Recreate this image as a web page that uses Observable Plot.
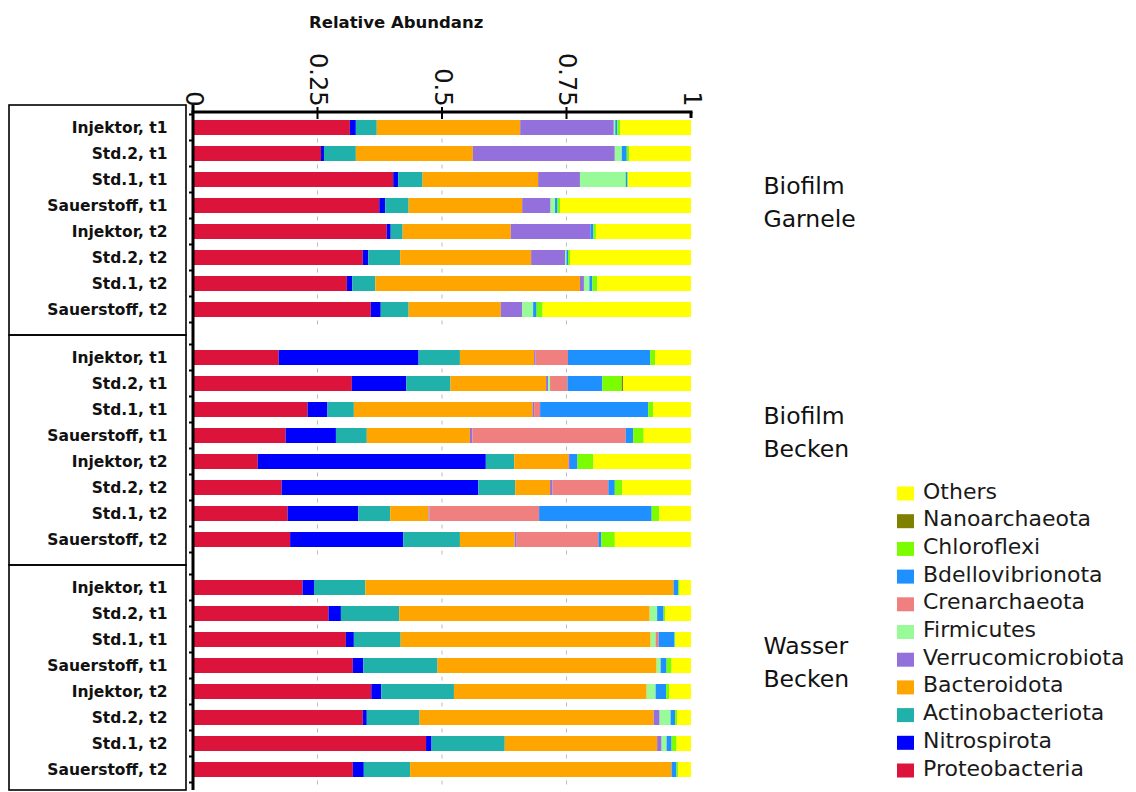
<!DOCTYPE html>
<html><head><meta charset="utf-8">
<script src="https://cdn.jsdelivr.net/npm/d3@7"></script>
<script src="https://cdn.jsdelivr.net/npm/@observablehq/plot@0.6"></script>
<style>body{margin:0;background:#fff} #chart{width:1136px;height:792px;position:relative}</style>
</head><body><div id="chart"></div>
<script>
const groups = ["Biofilm Garnele", "Biofilm Becken", "Wasser Becken"];
const groupLabels = ["Biofilm\nGarnele", "Biofilm\nBecken", "Wasser\nBecken"];
const samples = ["Injektor, t1", "Std.2, t1", "Std.1, t1", "Sauerstoff, t1", "Injektor, t2", "Std.2, t2", "Std.1, t2", "Sauerstoff, t2"];
const phyla = ["Proteobacteria", "Nitrospirota", "Actinobacteriota", "Bacteroidota", "Verrucomicrobiota", "Firmicutes", "Crenarchaeota", "Bdellovibrionota", "Chloroflexi", "Nanoarchaeota", "Others"];
const phylumColors = ["#dc143c", "#0000ff", "#20b2aa", "#ffa500", "#9370db", "#98fb98", "#f08080", "#1e90ff", "#7cfc00", "#808000", "#ffff00"];
const xTicks = [0, 0.25, 0.5, 0.75, 1];
const titleText = "Relative Abundanz";

// 24 values per phylum: Biofilm Garnele (8 samples), Biofilm Becken (8), Wasser Becken (8)
const proteobacteria   = [0.315,0.257,0.402,0.374,0.389,0.341,0.309,0.357, 0.172,0.319,0.230,0.186,0.130,0.178,0.190,0.195, 0.220,0.272,0.307,0.321,0.358,0.341,0.468,0.321];
const nitrospirota     = [0.012,0.006,0.010,0.012,0.008,0.011,0.011,0.020, 0.281,0.109,0.040,0.101,0.458,0.395,0.142,0.227, 0.023,0.025,0.016,0.021,0.020,0.008,0.011,0.022];
const actinobacteriota = [0.042,0.064,0.049,0.047,0.024,0.064,0.046,0.056, 0.083,0.089,0.053,0.062,0.057,0.074,0.064,0.114, 0.103,0.117,0.094,0.149,0.146,0.106,0.147,0.093];
const bacteroidota     = [0.288,0.235,0.232,0.228,0.217,0.263,0.411,0.185, 0.149,0.192,0.359,0.207,0.109,0.070,0.077,0.110, 0.619,0.503,0.502,0.440,0.387,0.470,0.306,0.525];
const verrucomicrobiota= [0.188,0.285,0.084,0.057,0.160,0.068,0.008,0.043, 0.003,0.004,0.003,0.005,0.003,0.005,0.002,0.004, 0,0,0,0,0,0.012,0.009,0];
const firmicutes       = [0.003,0.014,0.092,0.009,0,0.003,0.011,0.022, 0,0.004,0,0,0,0,0,0, 0,0.015,0.010,0.008,0.018,0.022,0.010,0];
const crenarchaeota    = [0,0,0,0,0,0,0,0, 0.065,0.035,0.012,0.308,0,0.112,0.220,0.164, 0,0,0.006,0,0,0,0,0];
const bdellovibrionota = [0.004,0.010,0.003,0.005,0.006,0.003,0.006,0.007, 0.165,0.070,0.217,0.015,0.015,0.013,0.226,0.006, 0.009,0.013,0.032,0.012,0.021,0.009,0.010,0.010];
const chloroflexi      = [0.006,0.005,0.002,0.005,0.005,0.004,0.010,0.012, 0.010,0.039,0.010,0.021,0.032,0.015,0.015,0.027, 0.003,0.003,0.002,0.010,0.006,0.004,0.010,0.003];
const nanoarchaeota    = [0,0,0,0,0,0,0,0, 0,0.003,0,0,0,0,0,0, 0,0,0,0,0,0,0,0];
const others           = [0.142,0.124,0.126,0.263,0.191,0.243,0.188,0.298, 0.072,0.136,0.076,0.095,0.196,0.138,0.064,0.153, 0.023,0.052,0.031,0.039,0.044,0.028,0.029,0.026];

const series = {
  Proteobacteria: proteobacteria, Nitrospirota: nitrospirota, Actinobacteriota: actinobacteriota,
  Bacteroidota: bacteroidota, Verrucomicrobiota: verrucomicrobiota, Firmicutes: firmicutes,
  Crenarchaeota: crenarchaeota, Bdellovibrionota: bdellovibrionota, Chloroflexi: chloroflexi,
  Nanoarchaeota: nanoarchaeota, Others: others
};
const rows = [];
phyla.forEach(p => groups.forEach((g, gi) => samples.forEach((s, si) =>
  rows.push({phylum: p, group: g, sample: s, value: series[p][gi * samples.length + si]}))));

const plot = Plot.plot({
  width: 1136, height: 792,
  marginLeft: 193, marginRight: 445, marginTop: 110, marginBottom: 4.4,
  style: {fontFamily: "DejaVu Sans", background: "transparent", color: "#111"},
  x: {domain: [0, 1], axis: null},
  y: {domain: samples, paddingInner: 0.436, paddingOuter: 0.3},
  fy: {domain: groups, paddingInner: 0.0565, paddingOuter: 0, axis: null},
  color: {domain: phyla, range: phylumColors},
  marks: [
    Plot.barX(rows, Plot.stackX({x: "value", y: "sample", fy: "group", fill: "phylum"})),
    Plot.axisY({tickSize: 0, tickPadding: 26, fontSize: 15.5, fontWeight: "bold", fill: "#111", label: null}),
    Plot.text(xTicks, {x: d => d, fy: () => groups[0], frameAnchor: "top", text: d => String(d),
      rotate: 90, textAnchor: "end", lineAnchor: "middle", dy: -4, fontSize: 24, fill: "#111"}),
    Plot.text(groups, {fy: d => d, text: (d, i) => groupLabels[i], frameAnchor: "right", textAnchor: "start",
      dx: 72, dy: -19, fontSize: 23.5, lineHeight: 1.42, fill: "#111"})
  ]
});
document.getElementById("chart").appendChild(plot);

// decorations drawn from the library's scales
const svg = d3.select(plot);
const X = plot.scale("x"), FY = plot.scale("fy"), Y = plot.scale("y");
const fyStep = FY.apply(groups[1]) - FY.apply(groups[0]);
const gap = fyStep - FY.bandwidth;
const yStep = Y.apply(samples[1]) - Y.apply(samples[0]);
const yGap = yStep - Y.bandwidth;
const y0 = Y.range[0];
const deco = svg.append("g");
const x0 = X.apply(0), x1 = X.apply(1);

groups.forEach((g, gi) => {
  const top = FY.apply(g) - gap / 2 + 1.5;
  const bottom = Math.min(FY.apply(g) + FY.bandwidth + gap / 2 + 1.5, 790);
  deco.append("rect").attr("x", 9).attr("y", top).attr("width", 177).attr("height", bottom - top)
    .attr("fill", "none").attr("stroke", "#000").attr("stroke-width", 1.6);
  samples.forEach((s, si) => {
    const yb = FY.apply(g) + (Y.apply(s) - y0) + Y.bandwidth + yGap / 2;
    xTicks.slice(1, 4).forEach(t => {
      deco.append("line").attr("x1", X.apply(t)).attr("x2", X.apply(t)).attr("y1", yb - 2).attr("y2", yb + 2)
        .attr("stroke", "#bbb").attr("stroke-width", 1);
    });
    deco.append("line").attr("x1", x0 - 4).attr("x2", x0).attr("y1", yb).attr("y2", yb)
      .attr("stroke", "#000").attr("stroke-width", 2);
    if (si === 0) {
      const yt = FY.apply(g) + (Y.apply(s) - y0) - yGap / 2;
      deco.append("line").attr("x1", x0 - 4).attr("x2", x0).attr("y1", yt).attr("y2", yt)
        .attr("stroke", "#000").attr("stroke-width", 2);
    }
  });
});

// left axis line
deco.append("line").attr("x1", x0).attr("x2", x0).attr("y1", FY.apply(groups[0]) - gap / 2 + 1.5).attr("y2", 790)
  .attr("stroke", "#000").attr("stroke-width", 3);
// top axis line
const axisY = FY.apply(groups[0]) + 2;
deco.append("line").attr("x1", x0 - 1.5).attr("x2", x1 + 1.5).attr("y1", axisY).attr("y2", axisY)
  .attr("stroke", "#000").attr("stroke-width", 3);
deco.append("line").attr("x1", x1).attr("x2", x1).attr("y1", axisY).attr("y2", axisY + 6)
  .attr("stroke", "#000").attr("stroke-width", 3);
xTicks.slice(1, 4).forEach(t => {
  deco.append("line").attr("x1", X.apply(t)).attr("x2", X.apply(t)).attr("y1", axisY - 5).attr("y2", axisY + 7)
    .attr("stroke", "#000").attr("stroke-width", 2);
});
// title
deco.append("text").attr("x", 309).attr("y", 27.5).attr("text-anchor", "start")
  .attr("font-family", "DejaVu Sans").attr("font-weight", "bold")
  .attr("font-size", 16.5).attr("fill", "#111").text(titleText);

// legend
const C = plot.scale("color");
const legendItems = phyla.slice().reverse();
const lg = svg.append("g").attr("font-family", "DejaVu Sans").attr("font-size", 22)
  .attr("fill", "#1a1a1a").attr("text-anchor", "start");
legendItems.forEach((p, i) => {
  const yb = 498.5 + i * 27.7;
  lg.append("rect").attr("x", 897).attr("y", yb - 12).attr("width", 17).attr("height", 14).attr("fill", C.apply(p));
  lg.append("text").attr("x", 923).attr("y", yb).attr("text-anchor", "start").text(p);
});
</script>
</body></html>
